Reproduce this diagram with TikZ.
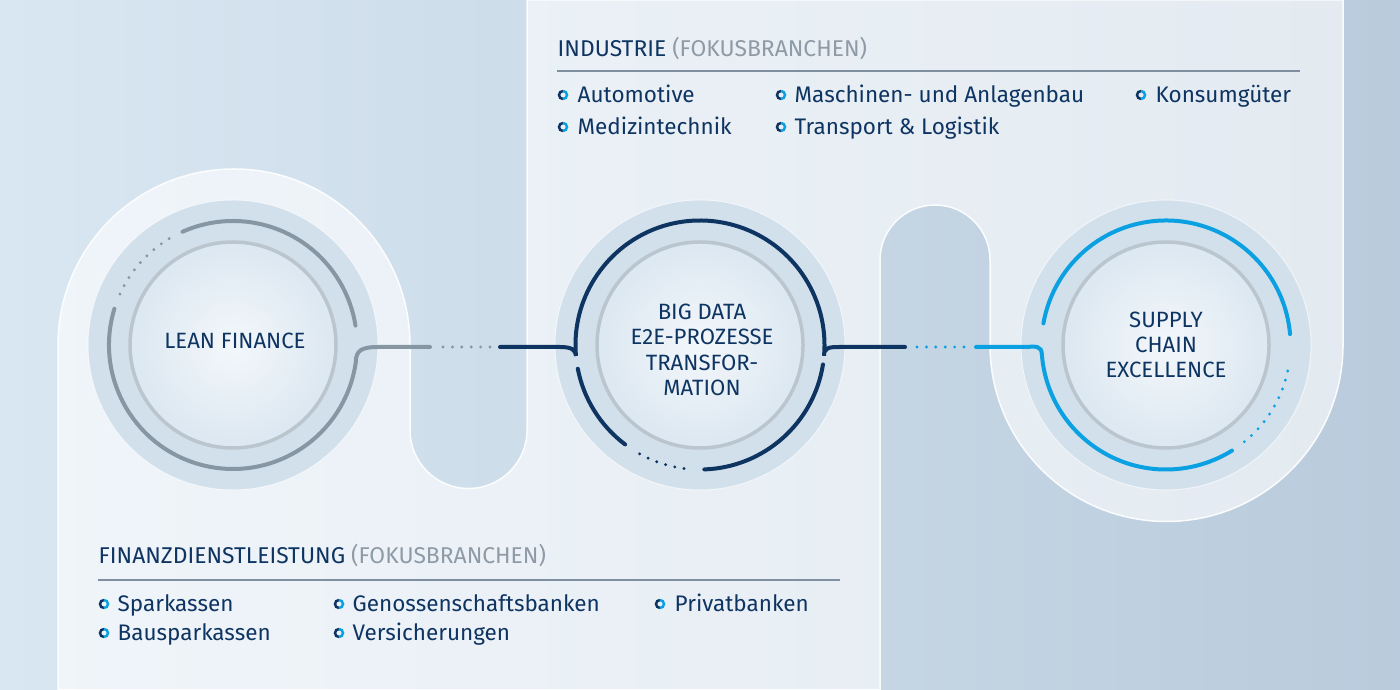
\documentclass[tikz,border=0pt]{standalone}
\usepackage{fontspec}
\setmainfont{Fira Sans}
\definecolor{navy}{HTML}{0E3462}
\definecolor{cyanx}{HTML}{0AA0E2}
\definecolor{grayarc}{HTML}{8796A3}
\definecolor{graytxt}{HTML}{8E9AA6}
\definecolor{rulec}{HTML}{7F8FA0}
\definecolor{bgA}{HTML}{D9E7F2}
\definecolor{bgB}{HTML}{B9CBDC}
\definecolor{ringc}{HTML}{D2E0EC}
\definecolor{discc}{HTML}{DCE8F2}
\tikzset{
  arcline/.style={line width=0.4mm,line cap=round},
  dotline/.style={line width=0.32mm,line cap=round,dash pattern=on 0pt off 0.94mm},
  itemtxt/.style={anchor=base west,text=navy,font=\fontsize{6.4pt}{7pt}\selectfont,inner sep=0pt},
  titletxt/.style={anchor=base west,text=navy,font=\fontsize{6.5pt}{7pt}\selectfont,inner sep=0pt},
  circtxt/.style={align=center,text=navy,font=\fontsize{6.3pt}{7.2pt}\selectfont,inner sep=0pt}
}
\newcommand{\bulletring}[2]{%
  \coordinate (bb) at (#1,#2);
  \draw[navy,line width=0.25mm] ([shift={(90:4)}]bb) arc[start angle=90,end angle=270,radius=4];
  \draw[cyanx,line width=0.25mm] ([shift={(-90:4)}]bb) arc[start angle=-90,end angle=90,radius=4];}
\begin{document}
\begin{tikzpicture}[x=0.1mm,y=0.1mm]
\useasboundingbox (0,0) rectangle (1400,690);
\shade[left color=bgA,right color=bgB] (0,0) rectangle (1400,690);
% light panel
\filldraw[fill=white,fill opacity=0.6,draw=white,draw opacity=0.9,line width=0.15mm]
 (58,0) -- (58,345) arc[start angle=180,end angle=0,radius=176] -- (410,260)
 arc[start angle=180,end angle=360,radius=58.5] -- (527,690) -- (1343,690) -- (1343,345)
 arc[start angle=0,end angle=-180,radius=176.5] -- (990,430)
 arc[start angle=0,end angle=180,radius=55] -- (880,0) -- cycle;
% circles
\foreach \n/\x in {cl/233,cm/700,cr/1166}{
  \coordinate (\n) at (\x,345);
  \fill[ringc] (\n) circle[radius=145];
  \draw[white,opacity=0.6,line width=0.1mm] (\n) circle[radius=145];
  \fill[discc] (\n) circle[radius=103];
  \shade[inner color=white!75!discc,outer color=discc,opacity=0.9] (\n) circle[radius=103];
  \draw[color=black!15!discc,line width=0.35mm] (\n) circle[radius=103];
}
% left circle arcs
\draw[grayarc,arcline] ([shift={(114:124)}]cl) arc[start angle=114,end angle=9,radius=124];
\draw[grayarc,dotline] ([shift={(121:124)}]cl) arc[start angle=121,end angle=158,radius=124];
\draw[grayarc,arcline] ([shift={(163:124)}]cl) arc[start angle=163,end angle=352,radius=124]
  .. controls +(0,12) and (362,343) .. (378,343) coordinate (lc1) -- (430,343) coordinate (lc2);
\coordinate (ld1) at (443,343); \coordinate (ld2) at (490,343);
\draw[grayarc,dotline] (ld1) -- (ld2);
% middle arcs
\coordinate (mc0) at (500,343);
\draw[navy,arcline] (mc0) -- (560,343) .. controls (572,343) and (575.5,340) .. ([shift={(185:124.5)}]cm)
  arc[start angle=185,end angle=-5,radius=124.5]
  .. controls +(0,8) and (828,343) .. (840,343) coordinate (mc1) -- (905,343) coordinate (mc2);
\draw[navy,arcline] ([shift={(191:124.5)}]cm) arc[start angle=191,end angle=233,radius=124.5];
\draw[navy,dotline] ([shift={(241:124.5)}]cm) arc[start angle=241,end angle=266,radius=124.5];
\draw[navy,arcline] ([shift={(272:124.5)}]cm) arc[start angle=272,end angle=351,radius=124.5];
% right arcs
\coordinate (rd1) at (917,343); \coordinate (rd2) at (965,343);
\draw[cyanx,dotline] (rd1) -- (rd2);
\draw[cyanx,arcline] (976,343) -- (1022,343) .. controls (1036,343) and (1041.5,346) .. ([shift={(185:124.5)}]cr)
  arc[start angle=185,end angle=302,radius=124.5];
\draw[cyanx,dotline] ([shift={(309:124.5)}]cr) arc[start angle=309,end angle=352,radius=124.5];
\draw[cyanx,arcline] ([shift={(5:124.5)}]cr) arc[start angle=5,end angle=170,radius=124.5];
% circle texts
\node[circtxt] (tl) at (235,349) {LEAN FINANCE};
\node[circtxt] (tm) at (702,340) {BIG DATA\\E2E-PROZESSE\\TRANSFOR-\\MATION};
\node[circtxt] (tr) at (1166,345) {SUPPLY\\CHAIN\\EXCELLENCE};
% Industrie
\node[titletxt] (ih) at (557,633) {INDUSTRIE \textcolor{graytxt}{(FOKUSBRANCHEN)}};
\draw[rulec,line width=0.12mm] (557,619) -- (1300,619);
\node[itemtxt] (i1) at (577,587) {Automotive};
\node[itemtxt] (i2) at (794,587) {Maschinen- und Anlagenbau};
\node[itemtxt] (i3) at (1155,587) {Konsumgüter};
\node[itemtxt] (i4) at (577,555) {Medizintechnik};
\node[itemtxt] (i5) at (794,555) {Transport \& Logistik};
\foreach \a/\b in {563/595,781/595,1141/595,563/563,781/563}{\bulletring{\a}{\b}}
% Finanz
\node[titletxt] (fh) at (98,126) {FINANZDIENSTLEISTUNG \textcolor{graytxt}{(FOKUSBRANCHEN)}};
\draw[rulec,line width=0.12mm] (98,110) -- (840,110);
\node[itemtxt] (f1) at (117,78) {Sparkassen};
\node[itemtxt] (f2) at (352,78) {Genossenschaftsbanken};
\node[itemtxt] (f3) at (674,78) {Privatbanken};
\node[itemtxt] (f4) at (117,49) {Bausparkassen};
\node[itemtxt] (f5) at (352,49) {Versicherungen};
\foreach \a/\b in {104/86,339/86,660/86,104/57,339/57}{\bulletring{\a}{\b}}
\end{tikzpicture}
\end{document}
